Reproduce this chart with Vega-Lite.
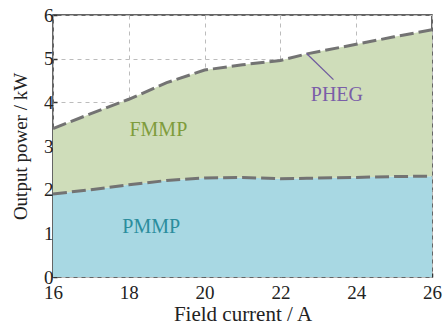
{
  "$schema": "https://vega.github.io/schema/vega-lite/v6.json",
  "autosize": "none",
  "width": 379,
  "height": 262,
  "padding": {"left": 53, "top": 15, "right": 11, "bottom": 49},
  "background": "white",
  "config": {
    "font": "'Liberation Serif', 'DejaVu Serif', serif",
    "view": {"stroke": "#333333", "strokeWidth": 1.5},
    "axis": {
      "domain": false,
      "zindex": 1,
      "grid": true,
      "gridColor": "#bcbcbc",
      "gridDash": [4, 4],
      "gridWidth": 1,
      "tickColor": "#333333",
      "tickSize": -4,
      "tickWidth": 1.5,
      "labelFont": "'Liberation Serif', 'DejaVu Serif', serif",
      "labelFontSize": 19,
      "labelColor": "#222222",
      "labelFlush": false,
      "titleFont": "'Liberation Serif', 'DejaVu Serif', serif",
      "titleFontSize": 20,
      "titleFontWeight": "normal",
      "titleColor": "#222222"
    }
  },
  "datasets": {
    "curves": [
      {"current": 16, "pmmp": 1.9, "pheg": 3.4},
      {"current": 17, "pmmp": 2.0, "pheg": 3.74},
      {"current": 18, "pmmp": 2.11, "pheg": 4.07},
      {"current": 19, "pmmp": 2.21, "pheg": 4.45},
      {"current": 20, "pmmp": 2.27, "pheg": 4.74},
      {"current": 21, "pmmp": 2.28, "pheg": 4.86},
      {"current": 22, "pmmp": 2.25, "pheg": 4.96},
      {"current": 22.7, "pmmp": 2.26, "pheg": 5.11},
      {"current": 24, "pmmp": 2.28, "pheg": 5.33},
      {"current": 25, "pmmp": 2.3, "pheg": 5.5},
      {"current": 26, "pmmp": 2.31, "pheg": 5.66}
    ],
    "labels": [
      {"current": 18.78, "power": 3.36, "text": "FMMP", "color": "#7f9c3c"},
      {"current": 18.59, "power": 1.15, "text": "PMMP", "color": "#2b8d9d"},
      {"current": 23.49, "power": 4.16, "text": "PHEG", "color": "#7a5ea8"}
    ],
    "leader": [
      {"x1": 22.69, "y1": 5.12, "x2": 23.4, "y2": 4.52}
    ]
  },
  "layer": [
    {
      "data": {"name": "curves"},
      "mark": {"type": "area", "color": "#a8d8e3", "opacity": 1},
      "encoding": {
        "x": {
          "field": "current",
          "type": "quantitative",
          "scale": {"domain": [16, 26], "nice": false, "zero": false},
          "axis": {"values": [16, 18, 20, 22, 24, 26], "title": "Field current / A", "labelPadding": 10, "titlePadding": 1, "titleFontSize": 21}
        },
        "y": {
          "field": "pmmp",
          "type": "quantitative",
          "scale": {"domain": [0, 6], "nice": false},
          "axis": {"values": [0, 1, 2, 3, 4, 5, 6], "title": "Output power / kW", "labelPadding": 4, "titlePadding": 13, "titleFontSize": 19}
        }
      }
    },
    {
      "data": {"name": "curves"},
      "mark": {"type": "area", "color": "#cfddba", "opacity": 1},
      "encoding": {
        "x": {"field": "current", "type": "quantitative"},
        "y": {"field": "pheg", "type": "quantitative"},
        "y2": {"field": "pmmp"}
      }
    },
    {
      "data": {"name": "curves"},
      "mark": {"type": "line", "color": "#737373", "strokeWidth": 3, "strokeDash": [14, 5]},
      "encoding": {
        "x": {"field": "current", "type": "quantitative"},
        "y": {"field": "pmmp", "type": "quantitative"}
      }
    },
    {
      "data": {"name": "curves"},
      "mark": {"type": "line", "color": "#737373", "strokeWidth": 3, "strokeDash": [14, 5]},
      "encoding": {
        "x": {"field": "current", "type": "quantitative"},
        "y": {"field": "pheg", "type": "quantitative"}
      }
    },
    {
      "data": {"name": "leader"},
      "mark": {"type": "rule", "color": "#6f5a9e", "strokeWidth": 1.3},
      "encoding": {
        "x": {"field": "x1", "type": "quantitative"},
        "y": {"field": "y1", "type": "quantitative"},
        "x2": {"field": "x2"},
        "y2": {"field": "y2"}
      }
    },
    {
      "data": {"name": "labels"},
      "mark": {"type": "text", "font": "'Liberation Serif', 'DejaVu Serif', serif", "fontSize": 20, "align": "center", "baseline": "middle"},
      "encoding": {
        "x": {"field": "current", "type": "quantitative"},
        "y": {"field": "power", "type": "quantitative"},
        "text": {"field": "text"},
        "color": {"field": "color", "type": "nominal", "scale": null}
      }
    }
  ]
}
